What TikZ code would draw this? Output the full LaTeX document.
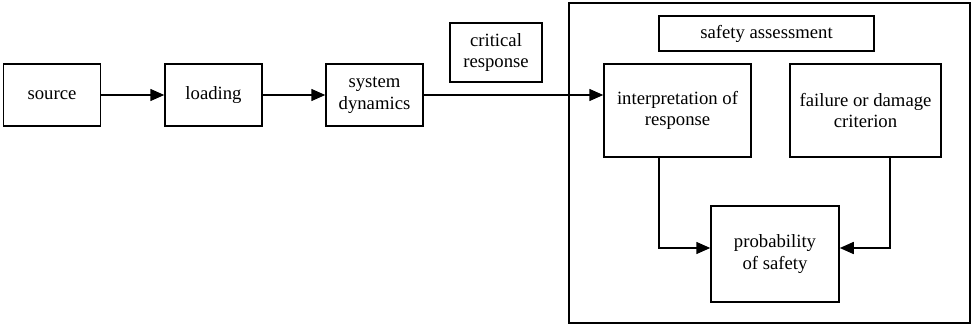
\documentclass[tikz,border=0pt]{standalone}
\usepackage{fontspec}
\setmainfont{Liberation Serif}
\usetikzlibrary{arrows.meta}

\tikzset{
  blk/.style={draw,line width=1.5pt,align=center,inner sep=0pt,
    font=\fontsize{18.7}{21.7}\selectfont},
  flow/.style={line width=1.5pt,-{Triangle[length=14pt,width=12pt]}}
}

\begin{document}
\begin{tikzpicture}[x=1pt,y=1pt]
  \useasboundingbox (0,0) rectangle (976,327);
  % chain on the left
  \node[blk,minimum width=97,minimum height=62] (source) at (52,232) {source};
  \node[blk,minimum width=97,minimum height=62] (loading) at (213.5,232) {loading};
  \node[blk,minimum width=97,minimum height=62] (sysdyn) at (374.5,232) {system\\dynamics};
  \node[blk,minimum width=92,minimum height=59] (crit) at (496,274.5) {critical\\response};
  % assessment block
  \draw[line width=1.2pt] (569,4) rectangle (970,324);
  \node[blk,minimum width=215,minimum height=35] (safety) at (766.5,293.5) {safety assessment};
  \node[blk,minimum width=147,minimum height=93] (interp) at (677.5,216.5) {interpretation of\\response};
  \node[blk,minimum width=151,minimum height=93] (fail) at (865.5,216.5) {failure or damage\\criterion};
  \node[blk,minimum width=128,minimum height=96] (prob) at (775,73) {probability\\of safety};

  \draw[flow] (source) -- (loading);
  \draw[flow] (loading) -- (sysdyn);
  \draw[flow] (sysdyn.east) -- (sysdyn.east -| interp.west);
  \draw[flow] ([xshift=-18.5pt]interp.south) |- ([yshift=6pt]prob.west);
  \draw[flow] ([xshift=24.5pt]fail.south) |- ([yshift=6pt]prob.east);
\end{tikzpicture}
\end{document}
